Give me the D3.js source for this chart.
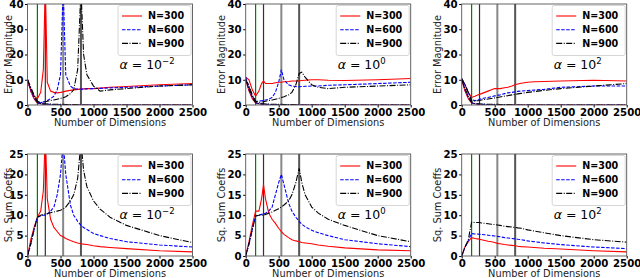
<!DOCTYPE html>
<html>
<head>
<meta charset="utf-8">
<script src="https://cdn.jsdelivr.net/npm/d3@7"></script>
<style>
  html, body { margin: 0; padding: 0; background: #fff; }
  svg { display: block; }
  text { font-family: "DejaVu Sans", sans-serif; }
  .tick text { font-weight: bold; font-size: 10.2px; fill: #000; }
  .axis-label { font-size: 9.8px; fill: #222; }
  .legend-text { font-weight: bold; font-size: 9.6px; fill: #000; }
  .alpha-text { font-size: 12.5px; fill: #000; }
</style>
</head>
<body>
<svg id="chart" width="640" height="278"></svg>
<script>
(function () {
  // shared x grid (number of dimensions)
  const DIMS = [0, 50, 100, 150, 200, 240, 270, 300, 350, 400, 450, 500, 540,
    580, 650, 700, 760, 810, 850, 900, 1000, 1100, 1250, 1500, 2000, 2500];
  const DIM_TICKS = [0, 500, 1000, 1500, 2000, 2500];
  const ERR_TICKS = [0, 10, 20, 30, 40];
  const COEF_TICKS = [0, 5, 10, 15, 20, 25];
  const N_LABELS = ["N=300", "N=600", "N=900"];
  const ALPHA_EXP = ["\u22122", "0", "2"];
  const THRESHOLDS = [150, 270, 540, 810];

  // error magnitude, alpha = 1e-2
  const ERR_A1_300 = [10, 6, 3.5, 2.5, 5, 14, 48, 9, 5.5, 5, 4.8, 5, 5.2, 5.5, 5.8, 6, 6.2, 6.3, 6.4, 6.5, 6.5, 6.7, 7, 7.3, 8, 8.5];
  const ERR_A1_600 = [10, 5.5, 2.5, 1, 1, 1.2, 1.5, 1.8, 2.5, 3.5, 6, 12, 46, 12, 7.5, 6.5, 6.3, 6.3, 6.3, 6.4, 6.5, 6.6, 6.8, 7, 7.5, 8];
  const ERR_A1_900 = [10, 7, 4, 1.5, 1, 1.2, 1.3, 1.5, 1.8, 2, 2.3, 2.6, 2.9, 3.3, 4.5, 6, 14, 46, 20, 12, 7.5, 5.5, 6, 6.5, 7.5, 8];
  // error magnitude, alpha = 1
  const ERR_A2_300 = [11, 10, 6, 3.5, 5.5, 8.5, 9.5, 8.5, 8.5, 8.5, 8.8, 9, 9, 9.2, 9.3, 9.5, 9.5, 9.5, 9.7, 9.8, 10, 10, 9.8, 9.7, 10, 10.5];
  const ERR_A2_600 = [11, 7, 3.5, 1.5, 1.5, 1.7, 1.8, 2, 2.3, 3, 5, 9, 14, 10, 8, 7.5, 7.3, 7.2, 7.3, 7.4, 7.5, 7.5, 7.8, 8, 8.5, 9];
  const ERR_A2_900 = [10, 7.5, 4, 1.5, 1, 1.2, 1.3, 1.5, 1.8, 2, 2.3, 2.6, 3, 3.3, 4, 5, 8, 12.5, 13, 11, 8, 7, 6.5, 7, 7.5, 8];
  // error magnitude, alpha = 1e2
  const ERR_A3_300 = [10, 8, 5, 3, 3.5, 4, 4.2, 4.5, 5, 5.5, 6, 6.5, 6.5, 6.5, 6.8, 7, 7.5, 8, 8.3, 8.6, 9, 9.2, 9.3, 9.5, 9.8, 9.5];
  const ERR_A3_600 = [10.5, 8, 5, 2, 1.8, 2, 2.2, 2.5, 2.8, 3, 3.3, 3.6, 3.8, 4, 4.5, 4.8, 5, 5.2, 5.4, 5.5, 5.7, 5.9, 6.2, 7, 7.5, 7.5];
  const ERR_A3_900 = [10.5, 8, 5, 1.5, 1.5, 1.7, 1.8, 2, 2.2, 2.4, 2.6, 2.8, 3, 3.2, 3.5, 3.7, 4, 4.2, 4.4, 4.6, 5, 5.3, 5.8, 6.5, 7.5, 8.5];
  // training error (near zero)
  const TRAIN_300 = [10, 5.5, 2.5, 0.8, 0.5, 0.3, 0.1, 0, 0, 0, 0, 0, 0, 0, 0, 0, 0, 0, 0, 0, 0, 0, 0, 0, 0, 0];
  const TRAIN_600 = [10, 6, 3, 0.9, 0.5, 0.4, 0.35, 0.3, 0.25, 0.2, 0.15, 0.1, 0, 0, 0, 0, 0, 0, 0, 0, 0, 0, 0, 0, 0, 0];
  const TRAIN_900 = [10, 6.5, 3.5, 1, 0.6, 0.5, 0.45, 0.4, 0.35, 0.3, 0.3, 0.25, 0.25, 0.2, 0.2, 0.15, 0.1, 0, 0, 0, 0, 0, 0, 0, 0, 0];

  // squared sum of coefficients
  const COEF_A1_300 = [0, 4, 7, 9.5, 11, 16, 30, 14, 9, 7, 6, 5, 4.7, 4.3, 3.8, 3.5, 3.2, 3, 2.9, 2.8, 2.5, 2.3, 2.1, 1.8, 1.3, 1];
  const COEF_A1_600 = [0, 3, 6.5, 9.5, 9.8, 10, 10, 10.3, 11, 12, 15, 20, 28, 20, 12.5, 10, 8.5, 7.5, 7, 6.5, 5.5, 5, 4.3, 3.5, 2.7, 2.2];
  const COEF_A1_900 = [0, 3, 6.5, 9.5, 10, 10.2, 10.3, 10.4, 10.6, 10.8, 11, 11.2, 11.5, 12, 13.5, 15, 19, 28, 21, 17, 13.5, 11.5, 9.5, 7.5, 5, 3.3];
  const COEF_A2_300 = [0, 3.5, 7.5, 11, 11, 14, 17.5, 14, 10.5, 9, 8, 6.8, 6, 5.3, 4.5, 4, 3.7, 3.5, 3.3, 3.2, 3, 2.7, 2.4, 2, 1.5, 1.3];
  const COEF_A2_600 = [0, 3, 6.5, 9.8, 10, 10.2, 10.3, 10.5, 11, 12, 15, 18, 20, 17.5, 13, 11, 9.5, 8.5, 7.8, 7.2, 6.3, 5.7, 5, 4, 3, 2.3];
  const COEF_A2_900 = [0, 3, 6.5, 9.8, 10, 10, 10, 10.2, 10.5, 10.8, 11.2, 11.6, 12, 12.5, 13.5, 15, 18, 21.5, 18, 15, 12, 10.5, 9, 7.5, 5, 3.5];
  const COEF_A3_300 = [0, 2.2, 3.5, 4.5, 4.3, 4.2, 4.1, 4, 3.8, 3.6, 3.5, 3.3, 3.1, 3, 2.8, 2.7, 2.6, 2.5, 2.4, 2.3, 2.2, 2.1, 1.9, 1.7, 1.3, 1];
  const COEF_A3_600 = [0, 2.2, 3.8, 5.5, 5.4, 5.4, 5.3, 5.3, 5.2, 5.1, 5, 4.9, 4.8, 4.7, 4.5, 4.4, 4.3, 4.2, 4.1, 4, 3.7, 3.5, 3.2, 2.8, 2.2, 1.8];
  const COEF_A3_900 = [0, 2.2, 4, 8.3, 8.2, 8.2, 8.2, 8.1, 8, 7.9, 7.8, 7.7, 7.6, 7.5, 7.3, 7.2, 7.1, 7, 6.9, 6.8, 6.4, 6.1, 5.7, 5, 4, 3.4];

  const COL_LEFT = [27.5, 245.7, 461.7];
  const YLABEL_X = [8, 221, 437];
  const ROW_TOP = [4, 154];
  const ROW_H = [101, 102];
  const PW = 165;

  const STYLES = [
    { color: "#ff0000", dash: null },
    { color: "#0000ff", dash: "3.5,1.5" },
    { color: "#000000", dash: "6,1.5,1,1.5" },
  ];
  const VLINE_STYLES = [
    { color: "#008000", width: 1.2 },
    { color: "#333333", width: 1.2 },
    { color: "#888888", width: 2 },
    { color: "#555555", width: 2 },
  ];

  const panels = [
    { row: 0, col: 0, ylabel: "Error Magnitude", yMax: 40, ticks: ERR_TICKS, series: [ERR_A1_300, ERR_A1_600, ERR_A1_900], train: true },
    { row: 0, col: 1, ylabel: "Error Magnitude", yMax: 40, ticks: ERR_TICKS, series: [ERR_A2_300, ERR_A2_600, ERR_A2_900], train: true },
    { row: 0, col: 2, ylabel: "Error Magnitude", yMax: 40, ticks: ERR_TICKS, series: [ERR_A3_300, ERR_A3_600, ERR_A3_900], train: true },
    { row: 1, col: 0, ylabel: "Sq. Sum Coeffs", yMax: 25, ticks: COEF_TICKS, series: [COEF_A1_300, COEF_A1_600, COEF_A1_900], train: false },
    { row: 1, col: 1, ylabel: "Sq. Sum Coeffs", yMax: 25, ticks: COEF_TICKS, series: [COEF_A2_300, COEF_A2_600, COEF_A2_900], train: false },
    { row: 1, col: 2, ylabel: "Sq. Sum Coeffs", yMax: 25, ticks: COEF_TICKS, series: [COEF_A3_300, COEF_A3_600, COEF_A3_900], train: false },
  ];
  const TRAIN = [TRAIN_300, TRAIN_600, TRAIN_900];

  const svg = d3.select("#chart");

  function drawPanel(p, i) {
    const left = COL_LEFT[p.col];
    const top = ROW_TOP[p.row];
    const PH = ROW_H[p.row];
    const x = d3.scaleLinear().domain([0, 2500]).range([0, PW]);
    const y = d3.scaleLinear().domain([0, p.yMax]).range([PH, 0]);

    const g = svg.append("g").attr("transform", "translate(" + left + "," + top + ")");

    g.append("clipPath")
      .attr("id", "clip" + i)
      .append("rect")
      .attr("width", PW)
      .attr("height", PH);

    const plot = g.append("g").attr("clip-path", "url(#clip" + i + ")");

    plot
      .selectAll("line.vline")
      .data(THRESHOLDS)
      .join("line")
      .attr("class", "vline")
      .attr("x1", (d) => x(d))
      .attr("x2", (d) => x(d))
      .attr("y1", 0)
      .attr("y2", PH)
      .attr("stroke", (d, j) => VLINE_STYLES[j].color)
      .attr("stroke-width", (d, j) => VLINE_STYLES[j].width);

    const line = d3
      .line()
      .x((d, j) => x(DIMS[j]))
      .y((d) => y(d));

    const all = p.train ? p.series.concat(TRAIN) : p.series;
    plot
      .selectAll("path.series")
      .data(all)
      .join("path")
      .attr("class", "series")
      .attr("fill", "none")
      .attr("stroke", (d, j) => STYLES[j % 3].color)
      .attr("stroke-dasharray", (d, j) => STYLES[j % 3].dash)
      .attr("stroke-width", 1.1)
      .attr("d", line);

    g.append("g")
      .attr("transform", "translate(0," + PH + ")")
      .call(d3.axisBottom(x).tickValues(DIM_TICKS).tickSize(2.5).tickPadding(1.5).tickFormat(d3.format("d")))
      .call((a) => a.select(".domain").remove());

    g.append("g")
      .call(d3.axisLeft(y).tickValues(p.ticks).tickSize(2.5).tickPadding(1.5))
      .call((a) => a.select(".domain").remove());

    g.append("rect")
      .attr("width", PW)
      .attr("height", PH)
      .attr("fill", "none")
      .attr("stroke", "#555")
      .attr("stroke-width", 0.9);

    // legend
    const lg = g.append("g").attr("transform", "translate(" + (PW - 74.5) + ",1.5)");
    lg.append("rect")
      .attr("width", 73)
      .attr("height", 50)
      .attr("rx", 2)
      .attr("fill", "#fff")
      .attr("fill-opacity", 0.85)
      .attr("stroke", "#cccccc")
      .attr("stroke-width", 0.8);
    N_LABELS.forEach((name, j) => {
      const yy = 10.5 + j * 13.7;
      lg.append("line")
        .attr("x1", 4)
        .attr("x2", 24)
        .attr("y1", yy)
        .attr("y2", yy)
        .attr("stroke", STYLES[j].color)
        .attr("stroke-dasharray", STYLES[j].dash)
        .attr("stroke-width", 1.1);
      lg.append("text")
        .attr("class", "legend-text")
        .attr("x", 30)
        .attr("y", yy)
        .attr("dy", "0.36em")
        .text(name);
    });

    // alpha annotation
    const at = g.append("text")
      .attr("class", "alpha-text")
      .attr("x", 92)
      .attr("y", 65);
    at.append("tspan").attr("font-style", "italic").text("\u03b1");
    at.append("tspan").text(" = 10");
    at.append("tspan")
      .attr("dy", -5)
      .attr("font-size", "8.5px")
      .text(ALPHA_EXP[p.col]);

    g.append("text")
      .attr("class", "axis-label")
      .attr("text-anchor", "middle")
      .attr("x", PW / 2)
      .attr("y", PH + 21)
      .text("Number of Dimensions");

    svg.append("text")
      .attr("class", "axis-label")
      .attr("text-anchor", "middle")
      .attr("transform", "translate(" + (YLABEL_X[p.col] + 3.5) + "," + (top + PH / 2) + ") rotate(-90)")
      .text(p.ylabel);
  }

  panels.forEach(drawPanel);
})();
</script>
</body>
</html>
